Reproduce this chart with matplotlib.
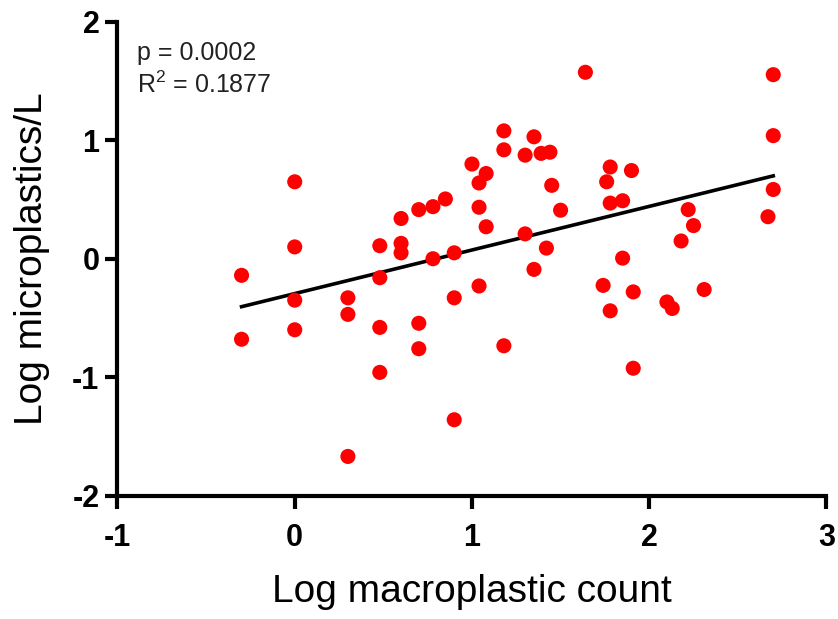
import numpy as np
import matplotlib
matplotlib.use('Agg')
import matplotlib.pyplot as plt

plt.rcParams['font.family'] = ['Liberation Sans', 'DejaVu Sans']
plt.rcParams['axes.unicode_minus'] = False
plt.rcParams['mathtext.default'] = 'regular'

# log macroplastic count vs log microplastics/L
log_macro = [-0.30, -0.30, 0.00, 0.00, 0.00, 0.00, 0.30, 0.30, 0.30,
             0.48, 0.48, 0.48, 0.48, 0.60, 0.60, 0.60, 0.70, 0.70, 0.70,
             0.78, 0.78, 0.85, 0.90, 0.90, 0.90, 1.00, 1.04, 1.04, 1.04,
             1.08, 1.08, 1.18, 1.18, 1.18, 1.30, 1.30, 1.35, 1.35, 1.39,
             1.44, 1.42, 1.45, 1.50, 1.64, 1.74, 1.76, 1.78, 1.78, 1.78,
             1.85, 1.85, 1.90, 1.91, 1.91, 2.10, 2.13, 2.18, 2.22, 2.25,
             2.31, 2.67, 2.70, 2.70, 2.70]
log_micro = [-0.14, -0.68, 0.65, 0.10, -0.35, -0.60, -0.33, -0.47, -1.67,
             0.11, -0.16, -0.58, -0.96, 0.34, 0.13, 0.05, 0.415, -0.545, -0.76,
             0.44, 0.00, 0.505, 0.05, -0.33, -1.36, 0.80, 0.64, 0.435, -0.23,
             0.72, 0.27, 1.08, 0.92, -0.735, 0.875, 0.21, 1.03, -0.09, 0.89,
             0.90, 0.09, 0.62, 0.41, 1.575, -0.225, 0.65, 0.775, 0.47, -0.44,
             0.49, 0.005, 0.745, -0.28, -0.925, -0.365, -0.42, 0.15, 0.415, 0.28,
             -0.26, 0.355, 1.555, 1.04, 0.585]

# regression line ends
fit_x = [-0.30, 2.70]
fit_y = [-0.405, 0.70]

p_text = 'p = 0.0002'
r2_text = 'R$^2$ = 0.1877'

fig = plt.figure(figsize=(8.38, 6.19), dpi=100)
ax = fig.add_axes([0.1402, 0.1995, 0.846, 0.765])

ax.scatter(log_macro, log_micro, s=118, color='#ff0000', edgecolors='none', zorder=3)
ax.plot(fit_x, fit_y, color='black', linewidth=2.6, zorder=2)

ax.set_xlim(-1, 3)
ax.set_ylim(-2, 2)
ax.set_xticks([-1, 0, 1, 2, 3])
ax.set_yticks([-2, -1, 0, 1, 2])

for side in ['top', 'right']:
	ax.spines[side].set_visible(False)
for side in ['left', 'bottom']:
	ax.spines[side].set_linewidth(3)

ax.tick_params(axis='both', width=3, length=9, labelsize=22)
ax.tick_params(axis='x', pad=11)
ax.tick_params(axis='y', pad=4)
for lab in ax.get_xticklabels() + ax.get_yticklabels():
	lab.set_fontweight('bold')

ax.set_xlabel('Log macroplastic count', fontsize=28)
ax.set_ylabel('Log microplastics/L', fontsize=28)
ax.xaxis.set_label_coords(0.5, -0.165)
ax.yaxis.set_label_coords(-0.095, 0.5)

ax.text(0.0275, 0.9207, p_text, transform=ax.transAxes, fontsize=18,
	va='baseline', ha='left', color='#222222')
ax.text(0.0275, 0.849, r2_text, transform=ax.transAxes, fontsize=18,
	va='baseline', ha='left', color='#222222')

fig.savefig('out.png', dpi=100)
